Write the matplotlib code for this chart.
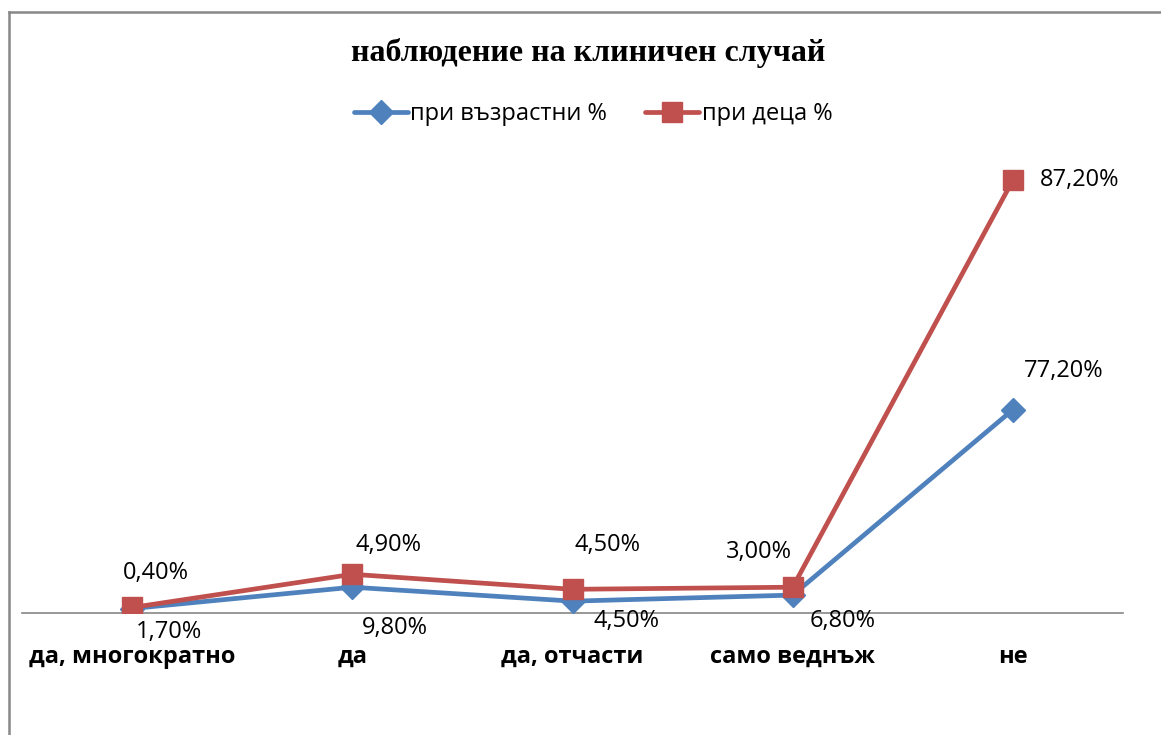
import matplotlib
matplotlib.use('Agg')
import matplotlib.pyplot as plt
import numpy as np
from matplotlib.lines import Line2D

categories = ['да, многократно', 'да', 'да, отчасти', 'само веднъж', 'не']
adults = [1.7, 9.8, 4.5, 6.8, 77.2]
children = [0.4, 4.9, 4.5, 3.0, 87.2]
series_names = ['при възрастни %', 'при деца %']
title = 'наблюдение на клиничен случай'

# label offsets in pixels (dx, dy), dy positive = up
adult_label_offsets = [(37, -23), (43, -41), (54, -20), (50, -26), (51, 39)]
child_label_offsets = [(24, 34), (36, 29), (35, 44), (-34, 35), (67, 0)]

BLUE = '#4F81BD'
RED = '#C0504D'
W, H, DPI = 1161, 735, 100
SANS = ['Open Sans', 'DejaVu Sans']


def fmt(v):
    return f'{v:.2f}%'.replace('.', ',')


def main():
    fig = plt.figure(figsize=(W / DPI, H / DPI), dpi=DPI)
    ax = fig.add_axes([22 / W, 1 - 613 / H, 1101 / W, 474 / H])

    x = np.arange(len(categories))
    # stacked line chart: the second series sits on top of the first
    base = np.array(adults)
    top = base + np.array(children)

    ax.plot(x, base, color=BLUE, lw=3.4, marker='D', ms=12,
            label=series_names[0], solid_capstyle='round', zorder=3)
    ax.plot(x, top, color=RED, lw=3.4, marker='s', ms=15,
            label=series_names[1], solid_capstyle='round', zorder=4)

    for xi, yi, v, off in zip(x, base, adults, adult_label_offsets):
        ax.annotate(fmt(v), (xi, yi), xytext=off, textcoords='offset pixels',
                    ha='center', va='center', fontsize=17, family=SANS,
                    annotation_clip=False)
    for xi, yi, v, off in zip(x, top, children, child_label_offsets):
        ax.annotate(fmt(v), (xi, yi), xytext=off, textcoords='offset pixels',
                    ha='center', va='center', fontsize=17, family=SANS,
                    annotation_clip=False)

    ax.set_xlim(-0.5, len(categories) - 0.5)
    ax.set_ylim(0, 180)
    ax.set_xticks(x)
    ax.set_xticklabels(categories, fontsize=17, fontweight='bold', family=SANS)
    ax.tick_params(axis='x', length=0, pad=23)
    ax.set_yticks([])
    for side in ['left', 'right', 'top']:
        ax.spines[side].set_visible(False)
    ax.spines['bottom'].set_color('#868686')
    ax.spines['bottom'].set_linewidth(1.2)
    ax.patch.set_visible(False)

    fig.text(588 / W, 1 - 53 / H, title, ha='center', va='center',
             fontsize=23, fontweight='bold', family='Liberation Serif')

    fig.legend(loc='center', bbox_to_anchor=(593 / W, 1 - 114 / H), ncol=2,
               frameon=False, prop={'family': SANS, 'size': 17},
               handlelength=2.3, handletextpad=0.1, columnspacing=1.6)

    # outer chart frame (only left and top edges are visible)
    fig.add_artist(Line2D([9 / W, 9 / W], [0, 1 - 12 / H], color='#888888',
                          lw=1.8, transform=fig.transFigure))
    fig.add_artist(Line2D([9 / W, 1], [1 - 12 / H, 1 - 12 / H], color='#888888',
                          lw=1.8, transform=fig.transFigure))

    fig.savefig('out.png', dpi=DPI)


if __name__ == '__main__':
    main()
